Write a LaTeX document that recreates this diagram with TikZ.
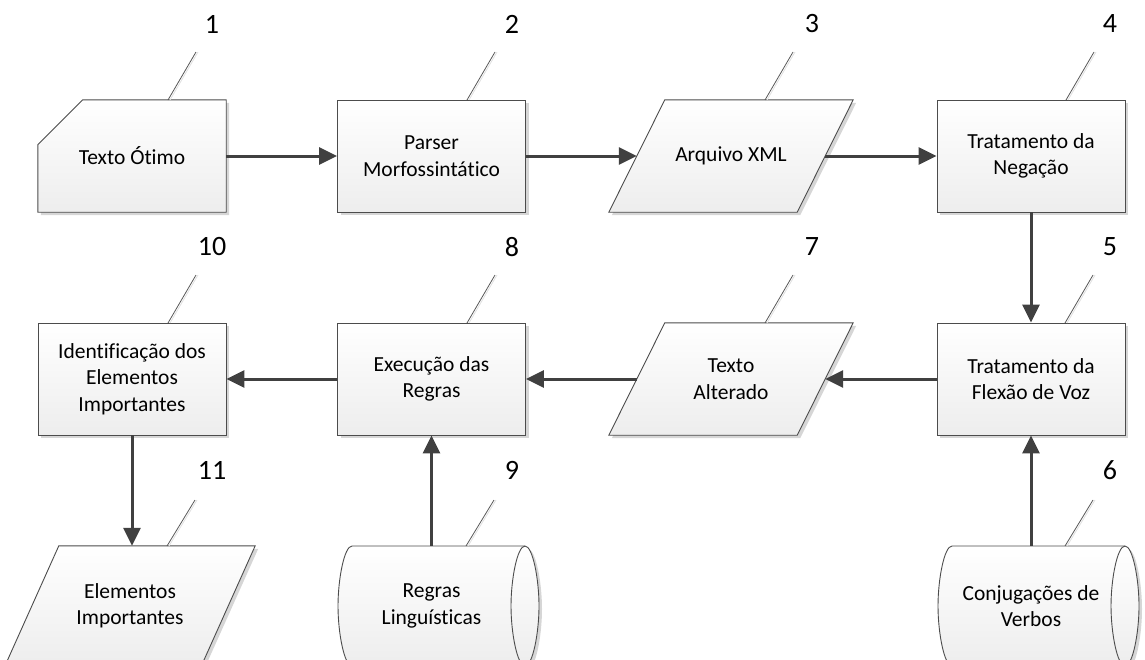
\documentclass[tikz,border=0pt]{standalone}
\usepackage{fontspec}
\setmainfont{Carlito}[Ligatures=CommonOff]
\usetikzlibrary{arrows.meta,calc}
\begin{document}
\begin{tikzpicture}[x=1pt,y=-1pt,
  shapebox/.style={draw=black!70, line width=0.9pt, top color=white, bottom color=black!7,
    preaction={fill=black!16, transform canvas={shift={(3pt,-3pt)}}}},
  lbl/.style={font=\fontsize{21.5}{26.5}\selectfont, align=center, inner sep=0pt, minimum width=188pt, minimum height=112pt},
  num/.style={font=\fontsize{28}{32}\selectfont, inner sep=0pt},
  lead/.style={draw=black!65, line width=0.8pt, preaction={draw=black!12, line width=0.8pt, transform canvas={shift={(2pt,0pt)}}}},
  arr/.style={draw=black!75, line width=3pt, -{Triangle[length=18pt,width=17pt]}},
]
\useasboundingbox (0,0) rectangle (1145,659);
\clip (0,0) rectangle (1145,659);

% ---- row 1
\node[lbl] (t1) at (132,156) {};
\draw[shapebox] ($(t1.north west)+(45,0)$) -- (t1.north east) -- (t1.south east) -- (t1.south west) -- ($(t1.north west)+(0,45)$) -- cycle;
\node[lbl] (t1text) at (t1) {Texto Ótimo};

\node[lbl, shapebox] (t2) at (431.5,156) {Parser\\Morfossintático};

\node[lbl] (t3) at (731,156) {};
\draw[shapebox] ($(t3.north west)+(28,0)$) -- ($(t3.north east)+(28,0)$) -- ($(t3.south east)+(-28,0)$) -- ($(t3.south west)+(-28,0)$) -- cycle;
\node[lbl] (t3text) at (t3) {Arquivo XML};

\node[lbl, shapebox] (t4) at (1031,156) {Tratamento da\\Negação};

% ---- row 2
\node[lbl, shapebox] (t10) at (132,379) {Identificação dos\\Elementos\\Importantes};
\node[lbl, shapebox] (t8) at (431.5,379) {Execução das\\Regras};

\node[lbl] (t7) at (731,379) {};
\draw[shapebox] ($(t7.north west)+(28,0)$) -- ($(t7.north east)+(28,0)$) -- ($(t7.south east)+(-28,0)$) -- ($(t7.south west)+(-28,0)$) -- cycle;
\node[lbl] (t7text) at (t7) {Texto\\Alterado};

\node[lbl, shapebox] (t5) at (1031,379) {Tratamento da\\Flexão de Voz};

% ---- row 3
\node[lbl, minimum width=196pt, minimum height=120pt] (t11) at (130,606) {};
\draw[shapebox] ($(t11.north west)+(27,0)$) -- ($(t11.north east)+(27,0)$) -- ($(t11.south east)+(-27,0)$) -- ($(t11.south west)+(-27,0)$) -- cycle;
\node[lbl] (t11text) at (t11) {Elementos\\Importantes};

\node[lbl, minimum height=120pt] (t9) at (431.5,606) {};
\draw[shapebox] (352,546) .. controls (344.3,546) and (338,579.1) .. (338,606)
  .. controls (338,632.9) and (344.3,666) .. (352,666) -- (525,666)
  .. controls (532.7,666) and (539,632.9) .. (539,606)
  .. controls (539,579.1) and (532.7,546) .. (525,546) -- cycle;
\draw[draw=black!70, line width=0.9pt] (525,546) .. controls (517.3,546) and (511,579.1) .. (511,606)
  .. controls (511,632.9) and (517.3,666) .. (525,666);
\node[lbl] (t9text) at (t9) {Regras\\Linguísticas};

\node[lbl, minimum height=120pt] (t6) at (1031,606) {};
\draw[shapebox] (952,546) .. controls (944.3,546) and (938,579.1) .. (938,606)
  .. controls (938,632.9) and (944.3,666) .. (952,666) -- (1125,666)
  .. controls (1132.7,666) and (1139,632.9) .. (1139,606)
  .. controls (1139,579.1) and (1132.7,546) .. (1125,546) -- cycle;
\draw[draw=black!70, line width=0.9pt] (1125,546) .. controls (1117.3,546) and (1111,579.1) .. (1111,606)
  .. controls (1111,632.9) and (1117.3,666) .. (1125,666);
\node[lbl] (t6text) at (t6) {Conjugações de\\Verbos};

% ---- number leaders
\draw[lead] (168,100) -- (196,52);   \node[num] (n1) at (212,24) {1};
\draw[lead] (467,100) -- (495,52);   \node[num] (n2) at (512,24) {2};
\draw[lead] (765,100) -- (793,52);   \node[num] (n3) at (812,24) {3};
\draw[lead] (1066,100) -- (1094,52); \node[num] (n4) at (1110,24) {4};
\draw[lead] (1065,323) -- (1093,275); \node[num] (n5) at (1110,247) {5};
\draw[lead] (765,323) -- (793,275);  \node[num] (n7) at (812,247) {7};
\draw[lead] (467,323) -- (495,275);  \node[num] (n8) at (512,247) {8};
\draw[lead] (168,323) -- (196,275);  \node[num] (n10) at (212,247) {10};
\draw[lead] (167,546) -- (195,500);  \node[num] (n11) at (212,470) {11};
\draw[lead] (466,546) -- (494,500);  \node[num] (n9) at (512,470) {9};
\draw[lead] (1065,546) -- (1093,500); \node[num] (n6) at (1110,470) {6};

% ---- arrows
\draw[arr] (t1.east) -- (t2.west);
\draw[arr] (t2.east) -- (t3.west);
\draw[arr] (t3.east) -- (t4.west);
\draw[arr] (t4.south) -- (t5.north);
\draw[arr] (t5.west) -- (t7.east);
\draw[arr] (t7.west) -- (t8.east);
\draw[arr] (t8.west) -- (t10.east);
\draw[arr] (t10.south) -- (t10.south |- t11.north);
\draw[arr] (t9.north) -- (t8.south);
\draw[arr] (t6.north) -- (t5.south);
\end{tikzpicture}
\end{document}
